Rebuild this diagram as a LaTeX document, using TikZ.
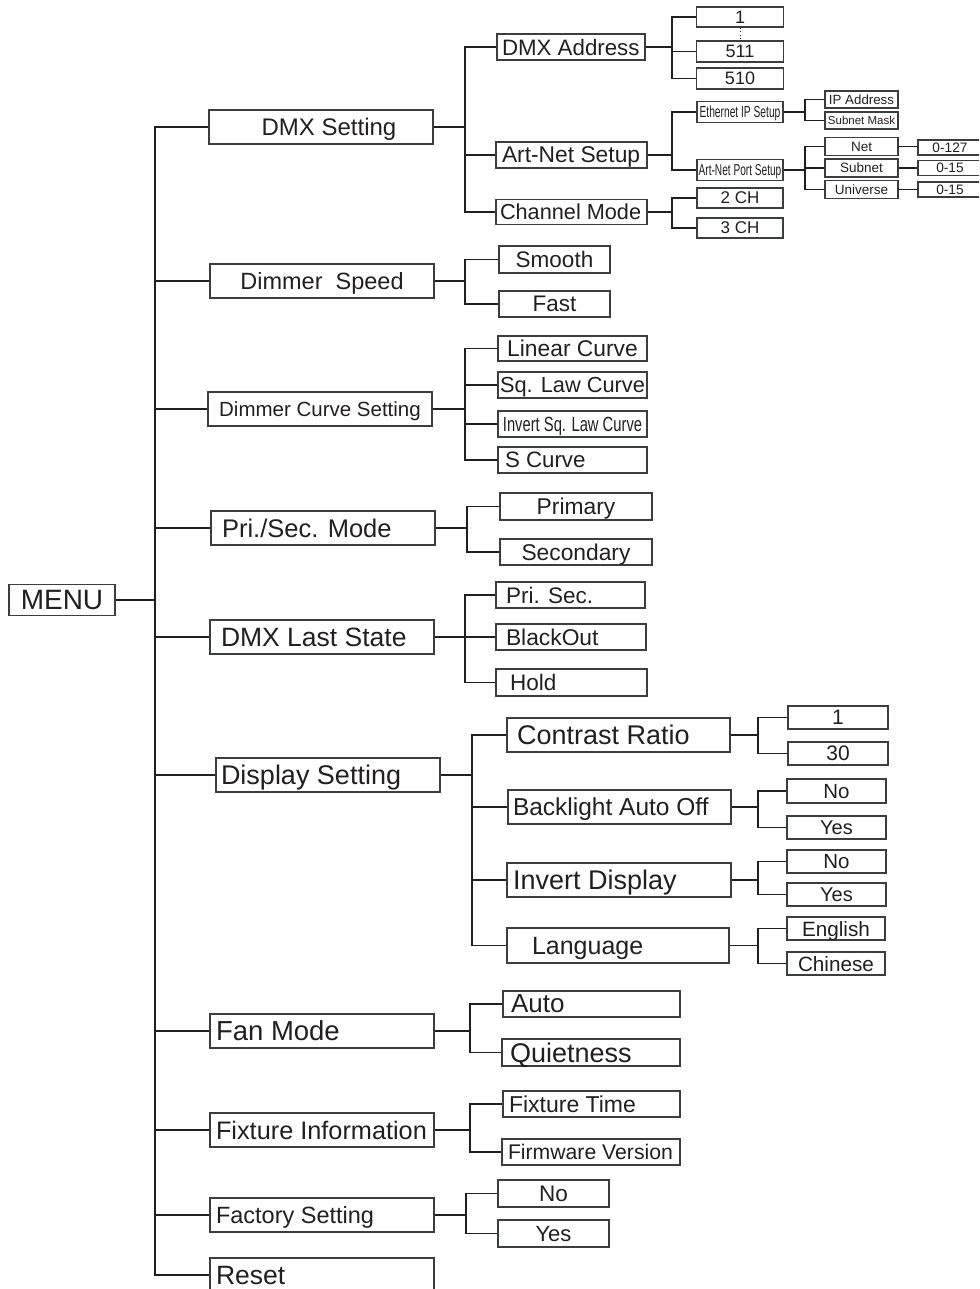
\documentclass[tikz,border=0pt]{standalone}
\usepackage{fontspec}
\setmainfont{Liberation Sans}
\newfontfamily\narrowsans[FakeStretch=0.72]{Liberation Sans}
\newfontfamily\tightsans[FakeStretch=0.64]{Liberation Sans}
\usepackage{tikz}
\usetikzlibrary{positioning, calc}
\definecolor{ink}{HTML}{231F20}
\definecolor{edge}{HTML}{3A3E40}
\newcommand{\fsz}[1]{\fontsize{#1}{#1}\selectfont}

\begin{document}
\begin{tikzpicture}[x=1pt, y=-1pt,
  box/.style={draw=edge, line width=1.3pt, inner sep=0pt, text=ink, text depth=0pt},
  wh/.style 2 args={minimum width=#1, minimum height=#2},
  lf/.style={execute at begin node={\hbox to #1\bgroup}, execute at end node={\hfil\egroup}},
  wire/.style={draw=ink, line width=1.8pt},
]
  \clip (0,0) rectangle (979,1289);

  % Root
  \node[box, wh={106}{31}, font=\fsz{28}] (menu) at (62,600) {MENU};

  % First level
  \node[box, wh={224}{34}, font=\fsz{24}] (dmxset) at (321,127) {\hspace*{16pt}DMX Setting};
  \node[box, wh={224}{34}, font=\fsz{23.5}] (dimspd) at (322,281) {Dimmer\ \ Speed};
  \node[box, wh={224}{34}, font=\fsz{20.5}] (dimcur) at (320,409) {Dimmer Curve Setting};
  \node[box, wh={224}{34}, lf=202pt, font=\fsz{25.5}] (prisec) at (323,528) {Pri./Sec. Mode};
  \node[box, wh={224}{34}, lf=202pt, font=\fsz{26.5}] (laststate) at (322,637) {DMX Last State};
  \node[box, wh={224}{34}, lf=214pt, font=\fsz{27}] (display) at (328,775) {Display Setting};
  \node[box, wh={224}{34}, lf=212pt, font=\fsz{27.5}] (fan) at (322,1031) {Fan Mode};
  \node[box, wh={224}{34}, lf=212pt, font=\fsz{25.3}] (fixinfo) at (322,1130) {Fixture Information};
  \node[box, wh={224}{34}, lf=212pt, font=\fsz{23.5}] (factory) at (322,1215) {Factory Setting};
  \node[box, wh={224}{34}, lf=212pt, font=\fsz{26.5}] (reset) at (322,1275) {Reset};

  % Spine
  \coordinate (sp) at (155,0);
  \draw[wire] (menu.east) -- (menu.east -| sp);
  \draw[wire] (dmxset.west) -| (sp |- reset) -- (reset.west);
  \foreach \n in {dimspd,dimcur,prisec,laststate,display,fan,fixinfo,factory}
    \draw[wire] (\n.west) -- (\n.west -| sp);

  % DMX Setting
  \node[box, wh={148}{26}, lf=138pt, font=\fsz{22.3}] (dmxaddr) at (571,47) {DMX Address};
  \node[box, wh={151}{26}, lf=139pt, font=\fsz{22.8}] (artnet) at (571.5,155) {Art-Net Setup};
  \node[box, wh={151}{25}, lf=143pt, font=\fsz{21.7}] (chmode) at (571.5,212) {Channel Mode};
  \coordinate (fa) at (465,0);
  \draw[wire] (dmxset.east) -- (dmxset.east -| fa);
  \draw[wire] (dmxaddr.west) -| (fa |- chmode) -- (chmode.west);
  \draw[wire] (artnet.west) -- (artnet.west -| fa);

  % DMX Address values
  \node[box, wh={87}{20}, font=\fsz{18}] (d1) at (740,17) {1};
  \node[box, wh={87}{21}, font=\fsz{18}] (d511) at (740,51.5) {511};
  \node[box, wh={87}{21}, font=\fsz{18}] (d510) at (740,78.5) {510};
  \draw[ink, line width=1pt, dash pattern=on 1pt off 2.5pt] (d1.south) -- (d511.north);
  \coordinate (fb) at (672,0);
  \draw[wire] (dmxaddr.east) -- (dmxaddr.east -| fb);
  \draw[wire] (d1.west) -| (fb |- d510) -- (d510.west);
  \draw[wire] (d511.west) -- (d511.west -| fb);

  % Art-Net Setup
  \node[box, wh={86}{21}, font=\tightsans\fsz{16}] (ethip) at (740,112) {Ethernet IP Setup};
  \node[box, wh={86}{21}, font=\tightsans\fsz{15.8}] (artport) at (740,170) {Art-Net Port Setup};
  \draw[wire] (artnet.east) -- (artnet.east -| fb);
  \draw[wire] (ethip.west) -| (fb |- artport) -- (artport.west);

  \node[box, wh={73}{17}, font=\fsz{13.3}] (ipaddr) at (861.5,99.5) {IP Address};
  \node[box, wh={73}{17}, font=\fsz{11.5}] (submask) at (861.5,120.5) {Subnet Mask};
  \coordinate (fc) at (805,0);
  \draw[wire] (ethip.east) -- (ethip.east -| fc);
  \draw[wire] (ipaddr.west) -| (fc |- submask) -- (submask.west);

  \node[box, wh={73}{18}, font=\fsz{13.5}] (net) at (861.5,146.5) {Net};
  \node[box, wh={73}{18}, font=\fsz{13.5}] (subnet) at (861.5,168) {Subnet};
  \node[box, wh={73}{18}, font=\fsz{13.5}] (universe) at (861.5,189.5) {Universe};
  \draw[wire] (artport.east) -- (artport.east -| fc);
  \draw[wire] (net.west) -| (fc |- universe) -- (universe.west);
  \draw[wire] (subnet.west) -- (subnet.west -| fc);

  \node[box, wh={64}{15}, font=\fsz{13.7}] (vnet) at (950,147.5) {0-127};
  \node[box, wh={64}{15}, font=\fsz{13.7}] (vsub) at (950,168) {0-15};
  \node[box, wh={64}{15}, font=\fsz{13.7}] (vuni) at (950,189.5) {0-15};
  \foreach \a/\b in {net/vnet,subnet/vsub,universe/vuni}
    \draw[ink, line width=1.2pt] (\a.east) -- (\a.east -| \b.west);

  % Channel Mode
  \node[box, wh={86}{20}, font=\fsz{17}] (ch2) at (740,198) {2 CH};
  \node[box, wh={86}{20}, font=\fsz{17}] (ch3) at (740,228) {3 CH};
  \draw[wire] (chmode.east) -- (chmode.east -| fb);
  \draw[wire] (ch2.west) -| (fb |- ch3) -- (ch3.west);

  % Dimmer Speed
  \node[box, wh={111}{27}, font=\fsz{22.5}] (smooth) at (554.5,259.5) {Smooth};
  \node[box, wh={111}{26}, font=\fsz{22.5}] (fast) at (554.5,304) {Fast};
  \draw[wire] (dimspd.east) -- (dimspd.east -| fa);
  \draw[wire] (smooth.west) -| (fa |- fast) -- (fast.west);

  % Dimmer Curve Setting
  \node[box, wh={149}{25}, font=\fsz{22.8}] (linear) at (572.5,348.5) {Linear Curve};
  \node[box, wh={149}{26}, font=\fsz{21.8}] (sqlaw) at (572.5,385) {Sq. Law Curve};
  \node[box, wh={149}{26}, font=\narrowsans\fsz{20.5}] (invsq) at (572.5,424) {Invert Sq. Law Curve};
  \node[box, wh={149}{26}, lf=135pt, font=\fsz{22.3}] (scurve) at (572.5,460) {S Curve};
  \draw[wire] (dimcur.east) -- (dimcur.east -| fa);
  \draw[wire] (linear.west) -| (fa |- scurve) -- (scurve.west);
  \foreach \n in {sqlaw,invsq}
    \draw[wire] (\n.west) -- (\n.west -| fa);

  % Pri./Sec. Mode
  \node[box, wh={152}{27}, font=\fsz{22.8}] (primary) at (576,506.5) {Primary};
  \node[box, wh={152}{26}, font=\fsz{22.8}] (secondary) at (576,552) {Secondary};
  \coordinate (fd) at (467,0);
  \draw[wire] (prisec.east) -- (prisec.east -| fd);
  \draw[wire] (primary.west) -| (fd |- secondary) -- (secondary.west);

  % DMX Last State
  \node[box, wh={149}{26}, lf=129pt, font=\fsz{22.5}] (lastps) at (570.5,595) {Pri. Sec.};
  \node[box, wh={150}{26}, lf=130pt, font=\fsz{22.8}] (blackout) at (571,637) {BlackOut};
  \node[box, wh={151}{27}, lf=123pt, font=\fsz{22.5}] (hold) at (571.5,682.5) {Hold};
  \draw[wire] (laststate.east) -- (laststate.east -| fa);
  \draw[wire] (lastps.west) -| (fa |- hold) -- (hold.west);
  \draw[wire] (blackout.west) -- (blackout.west -| fa);

  % Display Setting
  \node[box, wh={223}{34}, lf=203pt, font=\fsz{27}] (contrast) at (618.5,735) {Contrast Ratio};
  \node[box, wh={223}{34}, lf=213pt, font=\fsz{24.5}] (backlight) at (619.5,807) {Backlight Auto Off};
  \node[box, wh={224}{34}, lf=212pt, font=\fsz{27}] (invdisp) at (619,880) {Invert Display};
  \node[box, wh={222}{35}, lf=172pt, font=\fsz{25}] (language) at (618,945.5) {Language};
  \coordinate (fe) at (472,0);
  \draw[wire] (display.east) -- (display.east -| fe);
  \draw[wire] (contrast.west) -| (fe |- language) -- (language.west);
  \foreach \n in {backlight,invdisp}
    \draw[wire] (\n.west) -- (\n.west -| fe);

  \node[box, wh={100}{23}, font=\fsz{21}] (cr1) at (838,717.5) {1};
  \node[box, wh={100}{23}, font=\fsz{21}] (cr30) at (838,753.5) {30};
  \node[box, wh={99}{24}, font=\fsz{20.5}] (blno) at (836.5,791) {No};
  \node[box, wh={99}{23}, font=\fsz{20}] (blyes) at (836.5,827.5) {Yes};
  \node[box, wh={99}{23}, font=\fsz{20.5}] (idno) at (836.5,861.5) {No};
  \node[box, wh={99}{23}, font=\fsz{20}] (idyes) at (836.5,894.5) {Yes};
  \node[box, wh={98}{23}, font=\fsz{20.7}] (english) at (836,928.5) {English};
  \node[box, wh={98}{23}, font=\fsz{20.7}] (chinese) at (836,963.5) {Chinese};
  \coordinate (ff) at (758,0);
  \foreach \p/\a/\b in {contrast/cr1/cr30,backlight/blno/blyes,invdisp/idno/idyes,language/english/chinese}{
    \draw[wire] (\p.east) -- (\p.east -| ff);
    \draw[wire] (\a.west) -| (ff |- \b) -- (\b.west);
  }

  % Fan Mode
  \node[box, wh={177}{26}, lf=161pt, font=\fsz{26}] (auto) at (591.5,1004) {Auto};
  \node[box, wh={178}{27}, lf=162pt, font=\fsz{27}] (quiet) at (591,1052.5) {Quietness};
  \coordinate (fg) at (470,0);
  \draw[wire] (fan.east) -- (fan.east -| fg);
  \draw[wire] (auto.west) -| (fg |- quiet) -- (quiet.west);

  % Fixture Information
  \node[box, wh={177}{26}, lf=165pt, font=\fsz{23}] (fixtime) at (591.5,1104) {Fixture Time};
  \node[box, wh={178}{26}, lf=166pt, font=\fsz{21.2}] (firmware) at (591,1152) {Firmware Version};
  \draw[wire] (fixinfo.east) -- (fixinfo.east -| fg);
  \draw[wire] (fixtime.west) -| (fg |- firmware) -- (firmware.west);

  % Factory Setting
  \node[box, wh={111}{27}, font=\fsz{22.5}] (fsno) at (553.5,1193.5) {No};
  \node[box, wh={111}{27}, font=\fsz{22}] (fsyes) at (553.5,1233.5) {Yes};
  \coordinate (fh) at (466,0);
  \draw[wire] (factory.east) -- (factory.east -| fh);
  \draw[wire] (fsno.west) -| (fh |- fsyes) -- (fsyes.west);
\end{tikzpicture}
\end{document}
